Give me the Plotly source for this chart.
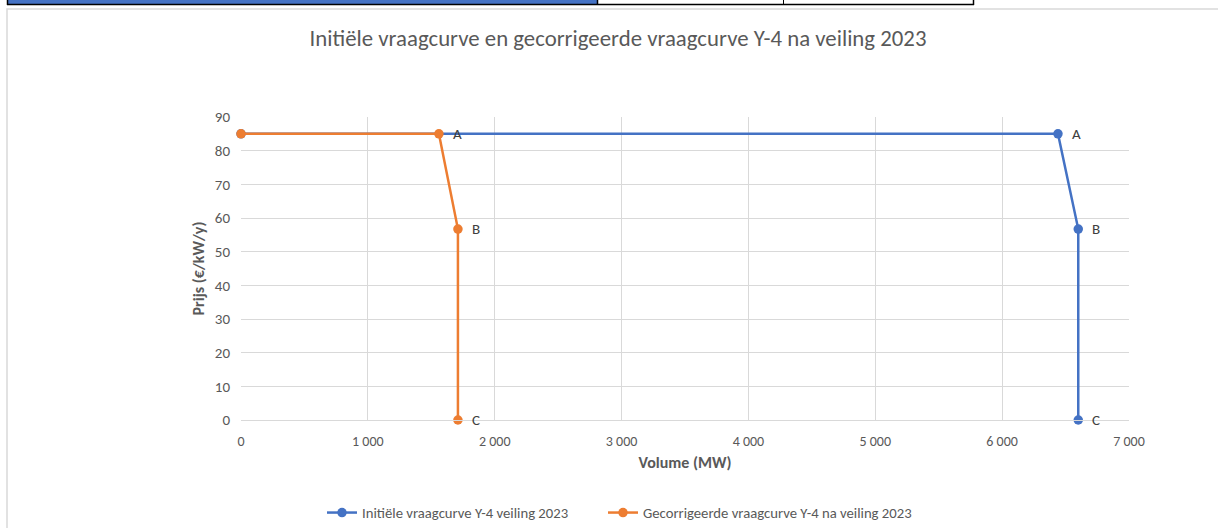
import plotly.graph_objects as go

# ---- data ----
initial_volume = [0, 6440, 6600, 6600]
initial_price = [85, 85, 56.7, 0]
corrected_volume = [0, 1560, 1710, 1710]
corrected_price = [85, 85, 56.7, 0]
point_labels = ["", "A", "B", "C"]
x_ticks = [0, 1000, 2000, 3000, 4000, 5000, 6000, 7000]
y_ticks = [0, 10, 20, 30, 40, 50, 60, 70, 80, 90]

name_initial = "Initiële vraagcurve Y-4 veiling 2023"
name_corrected = "Gecorrigeerde vraagcurve Y-4 na veiling 2023"
title_text = "Initiële vraagcurve en gecorrigeerde vraagcurve Y-4 na veiling 2023"

W, H = 1218, 528
L, R, T, B = 241, 1129, 117, 420
FONT = "Carlito, Lato, sans-serif"
BLUE = "#4472C4"
ORANGE = "#ED7D31"


def px(x):
    return (x - L) / (R - L)


def py(y):
    return (B - y) / (B - T)


fig = go.Figure()
fig.add_trace(go.Scatter(x=initial_volume, y=initial_price, mode="lines+markers",
                         name=name_initial, line=dict(color=BLUE, width=2.5),
                         marker=dict(size=9.5, color=BLUE), cliponaxis=False,
                         legend="legend"))
fig.add_trace(go.Scatter(x=corrected_volume, y=corrected_price, mode="lines+markers",
                         name=name_corrected, line=dict(color=ORANGE, width=2.5),
                         marker=dict(size=9.5, color=ORANGE), cliponaxis=False,
                         legend="legend2"))

annotations = []
for xs, ys in [(initial_volume, initial_price), (corrected_volume, corrected_price)]:
    for xv, yv, lab in zip(xs, ys, point_labels):
        if lab:
            annotations.append(dict(x=xv, y=yv, xref="x", yref="y", text=lab,
                                    showarrow=False, xanchor="left", xshift=12,
                                    font=dict(family=FONT, size=15, color="#404040")))

shapes = [
    # chart area border
    dict(type="rect", xref="paper", yref="paper", x0=px(7), x1=px(1230), y0=py(9), y1=py(540),
         line=dict(color="#D9D9D9", width=1.5), fillcolor="rgba(0,0,0,0)", layer="below"),
    # spreadsheet strip at top
    dict(type="rect", xref="paper", yref="paper", x0=px(8), x1=px(597), y0=py(-3), y1=py(4),
         line=dict(width=0), fillcolor="#4472C4"),
    dict(type="line", xref="paper", yref="paper", x0=px(7), x1=px(974), y0=py(4.5), y1=py(4.5),
         line=dict(color="#000000", width=1.5)),
    dict(type="line", xref="paper", yref="paper", x0=px(7.5), x1=px(7.5), y0=py(-2), y1=py(5),
         line=dict(color="#000000", width=1.5)),
    dict(type="line", xref="paper", yref="paper", x0=px(597.5), x1=px(597.5), y0=py(-2), y1=py(5),
         line=dict(color="#000000", width=1.5)),
    dict(type="line", xref="paper", yref="paper", x0=px(783.5), x1=px(783.5), y0=py(-2), y1=py(5),
         line=dict(color="#000000", width=1)),
    dict(type="line", xref="paper", yref="paper", x0=px(973.5), x1=px(973.5), y0=py(-2), y1=py(5),
         line=dict(color="#000000", width=1.5)),
]

legend_common = dict(orientation="h", xref="container", yref="container",
                     xanchor="left", y=1 - 513 / H, yanchor="middle",
                     font=dict(family=FONT, size=14.7, color="#595959"),
                     itemwidth=30, bgcolor="rgba(0,0,0,0)")

fig.update_layout(
    width=W, height=H,
    margin=dict(l=L, r=W - R, t=T, b=H - B, pad=0),
    paper_bgcolor="white", plot_bgcolor="white",
    separators=", ",
    font=dict(family=FONT, color="#595959", size=14),
    title=dict(text=title_text, x=618 / W, xanchor="center", xref="container",
               y=1 - 38 / H, yanchor="middle", yref="container",
               font=dict(family=FONT, size=22.8, color="#595959")),
    showlegend=True,
    legend=dict(legend_common, x=322 / W),
    legend2=dict(legend_common, x=603 / W),
    annotations=annotations,
    shapes=shapes,
)
fig.update_xaxes(range=[0, 7000], tickvals=x_ticks, tickformat=",d",
                 showgrid=True, gridcolor="#D9D9D9", gridwidth=1,
                 showline=True, linecolor="#D9D9D9", linewidth=1,
                 zeroline=False, ticks="", ticklabelstandoff=8,
                 tickfont=dict(family=FONT, size=14, color="#595959"),
                 title=dict(text="<b>Volume (MW)</b>", standoff=8,
                            font=dict(family=FONT, size=16, color="#595959")))
fig.update_yaxes(range=[0, 90], tickvals=y_ticks,
                 showgrid=True, gridcolor="#D9D9D9", gridwidth=1,
                 showline=False, zeroline=False, ticks="", ticklabelstandoff=10,
                 tickfont=dict(family=FONT, size=15, color="#595959"),
                 title=dict(text="<b>Prijs (€/kW/y)</b>", standoff=6,
                            font=dict(family=FONT, size=16, color="#595959")))

fig.write_html("out.html", config={"displayModeBar": False},
               post_script="document.body.style.margin='0';document.body.style.overflow='hidden';")
